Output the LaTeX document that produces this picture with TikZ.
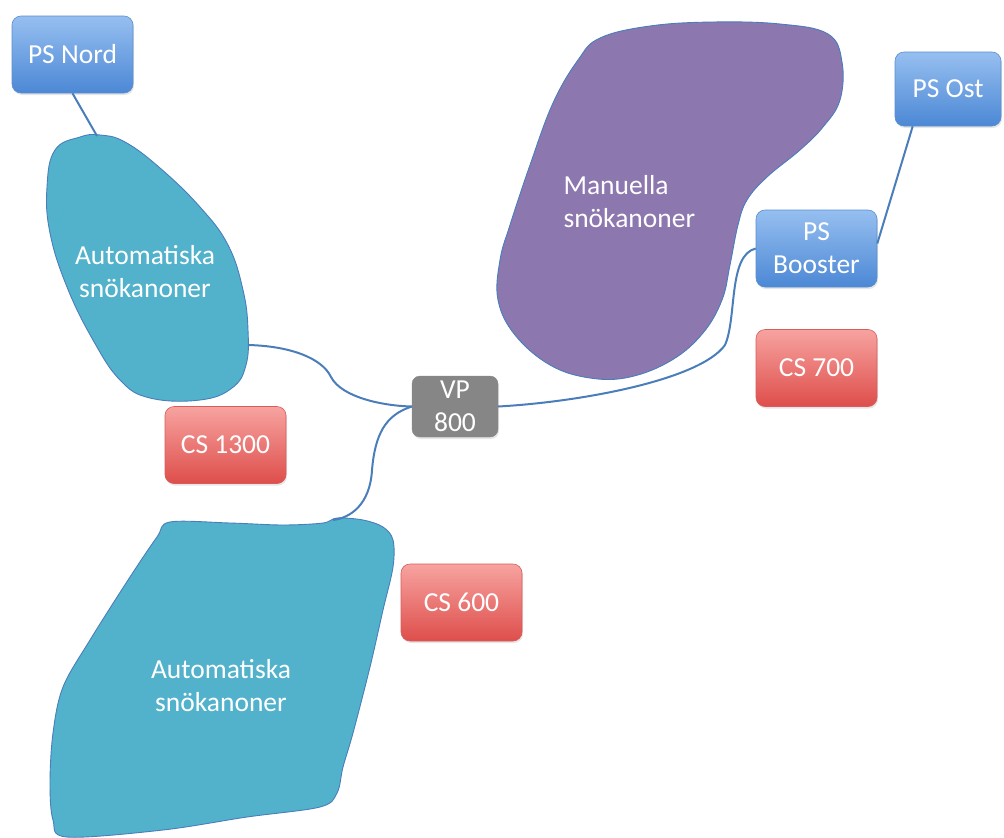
\documentclass[tikz,border=0pt]{standalone}
\usepackage{fontspec}
\setmainfont{Carlito}
\usetikzlibrary{shadows}
\definecolor{teal}{HTML}{52B2CB}
\definecolor{purp}{HTML}{8D77AF}
\definecolor{line}{HTML}{4A7EBB}
\definecolor{blueT}{HTML}{96BFF0}
\definecolor{blueB}{HTML}{4C88D5}
\definecolor{blueD}{HTML}{5A8ECF}
\definecolor{redT}{HTML}{F7A3A0}
\definecolor{redB}{HTML}{DE4E4B}
\definecolor{redD}{HTML}{D55E5B}
\definecolor{grayF}{HTML}{868686}
\tikzset{
  lbl/.style={text=white, font=\fontsize{27.5}{33}\selectfont},
  box/.style={lbl, rounded corners=9pt, align=center, inner sep=2pt,
    minimum width=121pt, minimum height=77pt,
    drop shadow={opacity=0.2, shadow xshift=1pt, shadow yshift=-2pt}},
  bluebox/.style={box, top color=blueT, bottom color=blueB, draw=blueD, line width=0.6pt},
  redbox/.style={box, top color=redT, bottom color=redB, draw=redD, line width=0.6pt},
  graybox/.style={box, fill=grayF, draw=grayF, minimum width=86pt, minimum height=61pt, rounded corners=8pt},
  blob/.style={draw=line, line width=0.9pt},
  conn/.style={draw=line, line width=2pt},
}
\begin{document}
\begin{tikzpicture}[x=1pt,y=-1pt]
\useasboundingbox (0,0) rectangle (1004,838);
% blobs
\path[blob, fill=teal] plot[smooth cycle, tension=0.7] coordinates {(55,150) (80,137) (100,135) (125,142) (160,168) (200,207) (228,245) (243,290) (248,330) (246,365) (232,388) (200,400) (150,398) (120,380) (93,340) (67,287) (50,233) (47,187)};
\path[blob, fill=teal] plot[smooth cycle, tension=0.55] coordinates {(170,522) (230,523) (283,525) (323,523) (337,518) (363,520) (383,527) (393,540) (393,567) (383,610) (370,667) (353,733) (343,767) (337,793) (320,807) (247,817) (163,830) (67,837) (53,820) (50,783) (53,733) (63,687) (90,640) (130,577) (157,537)};
\path[blob, fill=purp] plot[smooth cycle, tension=0.65] coordinates {(600,38) (650,26) (713,22) (780,24) (828,34) (842,62) (840,100) (823,127) (800,150) (767,177) (747,200) (738,225) (730,265) (722,300) (703,333) (672,360) (630,377) (590,378) (550,365) (515,335) (498,300) (500,260) (510,225) (530,165) (553,103) (578,60)};
\coordinate (b1t) at (97,136);
\coordinate (b1r) at (248,345);
\coordinate (b2t) at (333,520);
\node[lbl, align=center] (t1) at (145,272) {Automatiska\\snökanoner};
\node[lbl, align=center] (t2) at (221,686) {Automatiska\\snökanoner};
\node[lbl, align=left, anchor=west] (t3) at (560,202) {Manuella\\snökanoner};
% boxes
\node[bluebox] (nord) at (72.5,54.5) {PS Nord};
\node[bluebox, minimum width=106pt, minimum height=74pt] (ost) at (948,89) {PS Ost};
\node[bluebox] (boost) at (816.5,248.5) {PS\\Booster};
\node[redbox] (cs700) at (816.5,368) {CS 700};
\node[redbox] (cs1300) at (225.5,445) {CS 1300};
\node[redbox] (cs600) at (461.5,602.5) {CS 600};
\node[graybox] (vp) at (455,406.5) {VP\\800};
% connectors
\path[conn] (nord.south) -- (b1t);
\path[conn] ([xshift=18pt]ost.south west) -- ([yshift=5pt]boost.east);
\path[conn] (b1r) .. controls (290,346) and (322,358) .. (331,377) .. controls (342,398) and (385,406) .. (vp.west);
\path[conn] (vp.west) .. controls (385,415) and (375,435) .. (372,470) .. controls (370,505) and (350,518) .. (b2t);
\path[conn] (vp.east) .. controls (580,402) and (700,380) .. (725,345) .. controls (737,318) and (728,255) .. (boost.west);
\end{tikzpicture}
\end{document}
